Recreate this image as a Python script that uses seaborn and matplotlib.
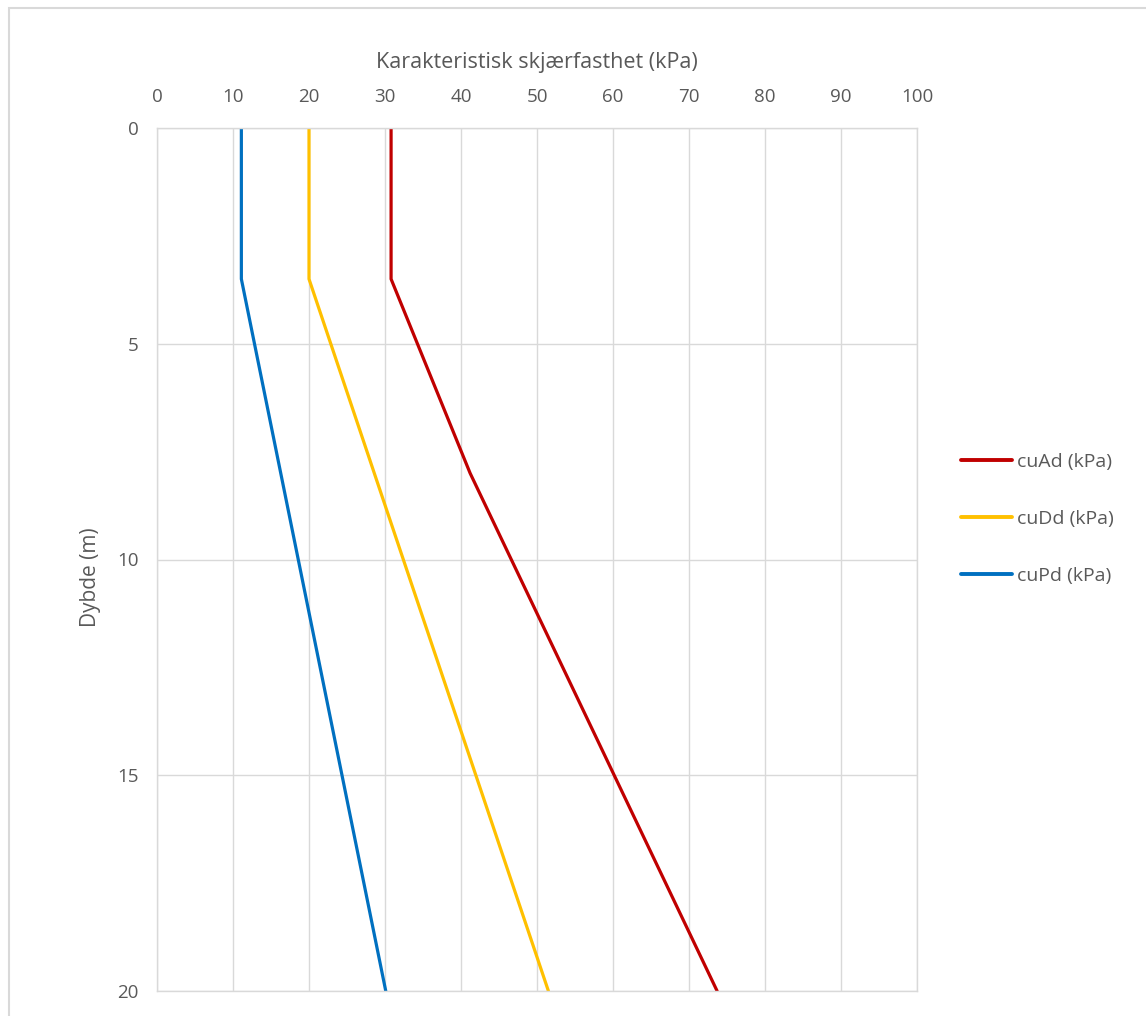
import pandas as pd
import seaborn as sns
import matplotlib.pyplot as plt
from matplotlib.patches import Rectangle

# depth points (m) and characteristic shear strength (kPa) per series
depth_a = [0, 3.5, 8, 20]
cu_a = [30.8, 30.8, 41.2, 73.7]
depth_d = [0, 3.5, 20]
cu_d = [20.0, 20.0, 51.5]
depth_p = [0, 3.5, 20]
cu_p = [11.1, 11.1, 30.1]

series_names = ['cuAd (kPa)', 'cuDd (kPa)', 'cuPd (kPa)']
colors = ['#C00000', '#FFC000', '#0070C0']

x_ticks = list(range(0, 101, 10))
y_ticks = [0, 5, 10, 15, 20]

frames = []
for name, d, v in zip(series_names, [depth_a, depth_d, depth_p], [cu_a, cu_d, cu_p]):
    frames.append(pd.DataFrame({'Dybde': d, 'cu': v, 'Serie': name}))
data = pd.concat(frames, ignore_index=True)

sns.set_theme(style='white')
plt.rcParams['font.family'] = ['Open Sans', 'DejaVu Sans']
text_color = '#595959'
grid_color = '#d9d9d9'

fig = plt.figure(figsize=(11.46, 10.16), dpi=100)
ax = fig.add_axes([157 / 1146, 1 - 991 / 1016, 760 / 1146, 863 / 1016])

sns.lineplot(data=data, x='cu', y='Dybde', hue='Serie', palette=colors,
             orient='y', estimator=None, linewidth=2.3, ax=ax)

ax.set_xlim(0, 100)
ax.set_ylim(20, 0)
ax.set_xticks(x_ticks)
ax.set_yticks(y_ticks)
ax.xaxis.tick_top()
ax.xaxis.set_label_position('top')
ax.tick_params(length=0, labelsize=13.5, colors=text_color)
ax.tick_params(axis='x', pad=16)
ax.tick_params(axis='y', pad=13)
ax.set_xlabel('Karakteristisk skjærfasthet (kPa)', fontsize=15.5, color=text_color, labelpad=14)
ax.set_ylabel('Dybde (m)', fontsize=15, color=text_color)
ax.yaxis.set_label_coords(-0.074, 0.48)
ax.grid(True, color=grid_color, linewidth=1)
for s in ax.spines.values():
    s.set_color(grid_color)
    s.set_linewidth(1)

leg = ax.legend(loc='center left', bbox_to_anchor=(1.035, 0.547), frameon=False,
                fontsize=14, labelcolor=text_color, handlelength=2.6,
                handletextpad=0.3, labelspacing=2.0)
for line in leg.get_lines():
    line.set_linewidth(2.8)

fig.add_artist(Rectangle((9 / 1146, -0.1), 1.1, 1.1 - 8 / 1016,
                         transform=fig.transFigure, fill=False,
                         edgecolor=grid_color, linewidth=1.5))

fig.savefig('out.png', dpi=100)
